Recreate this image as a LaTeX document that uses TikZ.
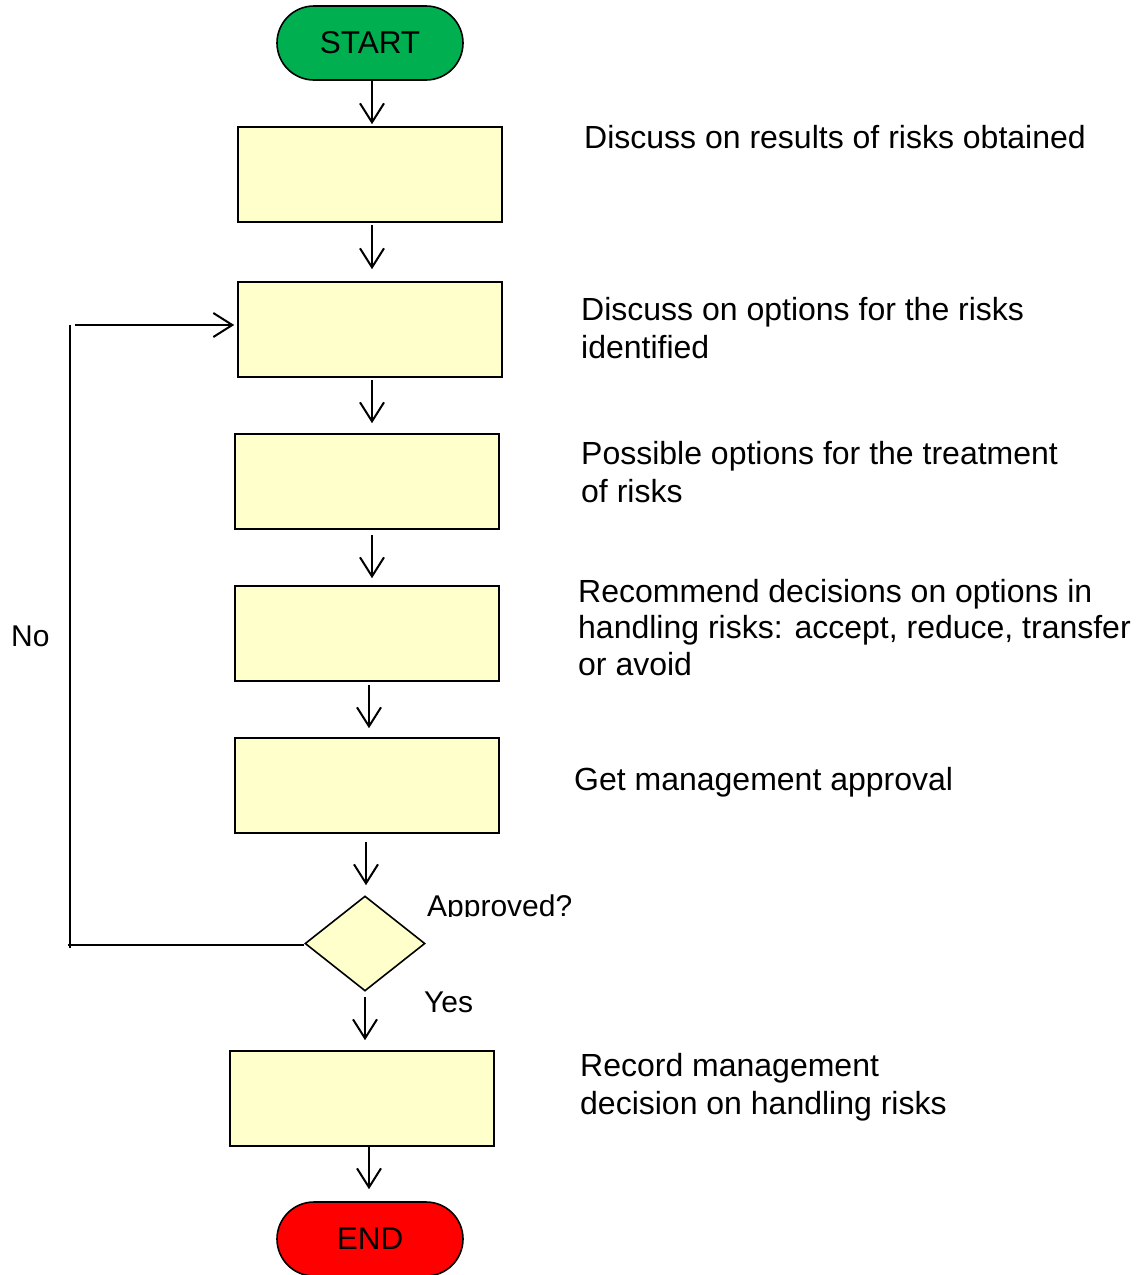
\documentclass[tikz,border=0pt]{standalone}
\usepackage{fontspec}
\setmainfont{Liberation Sans}
\usetikzlibrary{shapes.geometric,arrows.meta,calc}
\definecolor{boxfill}{HTML}{FFFFCC}
\definecolor{startgreen}{HTML}{00B050}
\definecolor{endred}{HTML}{FF0000}
\begin{document}
\begin{tikzpicture}[x=1pt,y=-1pt,
  stepbox/.style={draw,line width=1.6pt,fill=boxfill,minimum width=264pt,minimum height=95pt,inner sep=0pt},
  terminal/.style={draw,line width=1.6pt,rounded corners=37pt,minimum width=186pt,minimum height=74pt,inner sep=0pt,font=\fontsize{31.5}{36}\selectfont},
  decision/.style={draw,line width=1.6pt,fill=boxfill,diamond,minimum width=120pt,minimum height=95pt,inner sep=0pt},
  conn/.style={line width=2pt},
  arr/.style={line width=2pt,-{Straight Barb[length=19pt,width=24pt,line width=2pt]}},
  note/.style={anchor=base west,align=left,inner sep=0pt,font=\fontsize{32}{38}\selectfont}
]
\useasboundingbox (0,0) rectangle (1137,1275);

% terminals
\node[terminal,fill=startgreen] (start) at (370,43) {START};
\node[terminal,fill=endred] (end) at (370,1239) {END};

% process boxes
\node[stepbox] (b1) at (370,174.5) {};
\node[stepbox] (b2) at (370,329.5) {};
\node[stepbox] (b3) at (367,481.5) {};
\node[stepbox] (b4) at (367,633.5) {};
\node[stepbox] (b5) at (367,785.5) {};
\node[decision] (dia) at (365,943.5) {};
\node[stepbox] (b6) at (362,1098.5) {};

% downward flow
\draw[arr,shorten >=2pt] ([xshift=2pt]start.south) -- ([xshift=2pt]start.south |- b1.north);
\draw[arr,shorten <=2pt,shorten >=12pt] ([xshift=2pt]b1.south) -- ([xshift=2pt]b1.south |- b2.north);
\draw[arr,shorten <=2pt,shorten >=10pt] ([xshift=2pt]b2.south) -- ([xshift=2pt]b2.south |- b3.north);
\draw[arr,shorten <=5pt,shorten >=7pt] ([xshift=5pt]b3.south) -- ([xshift=5pt]b3.south |- b4.north);
\draw[arr,shorten <=3pt,shorten >=9pt] ([xshift=2pt]b4.south) -- ([xshift=2pt]b4.south |- b5.north);
\draw[arr,shorten <=8pt,shorten >=10pt] ([xshift=-1pt]b5.south) -- ([xshift=-1pt]b5.south |- dia.north);
\draw[arr,shorten <=5pt,shorten >=10pt] (dia.south) -- (dia.south |- b6.north);
\draw[arr,shorten >=12pt] ([xshift=7pt]b6.south) -- ([xshift=7pt]b6.south |- end.north);

% "No" loop back to the second step
\coordinate (lc) at (70,945);
\coordinate (tc) at (70,325);
\draw[conn] (dia.west |- lc) -- (68,945);
\draw[conn] (70,948) -- (tc);
\draw[arr,shorten >=3pt] ([xshift=5pt]tc) -- (tc -| b2.west);

% step descriptions (base anchor sits on the last line)
\node[note] (t1) at (584,148) {Discuss on results of risks obtained};
\node[note] (t2) at (581,358) {Discuss on options for the risks\\identified};
\node[note] (t3) at (581,502) {Possible options for the treatment\\of risks};
\node[note,font=\fontsize{32}{36.5}\selectfont] (t4) at (578,675) {Recommend decisions on options in\\handling risks: accept, reduce, transfer\\or avoid};
\node[note] (t5) at (574,790) {Get management approval};
\node[note] (t6) at (580,1114) {Record management\\decision on handling risks};

% decision labels
\begin{scope}
  \clip (400,880) rectangle (620,916);
  \node[note,font=\fontsize{30}{36}\selectfont] (qa) at (427,916) {Approved?};
\end{scope}
\node[note,font=\fontsize{30}{36}\selectfont] (yes) at (424,1012) {Yes};
\node[note,font=\fontsize{30}{36}\selectfont] (no) at (11,646) {No};
\end{tikzpicture}
\end{document}
